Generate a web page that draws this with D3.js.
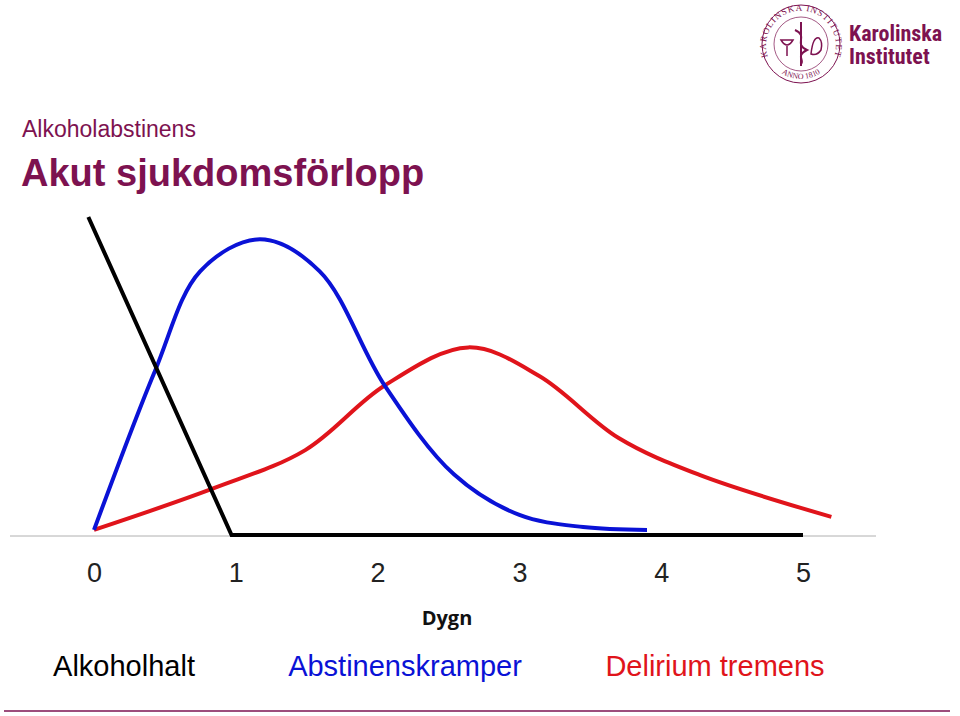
<!DOCTYPE html>
<html><head><meta charset="utf-8">
<script src="https://cdn.jsdelivr.net/npm/d3@7"></script>
<style>body{margin:0;background:#fff}</style>
</head><body>
<svg id="chart" width="960" height="716"></svg>
<script>
// days on x, relative level (0-100) on y
var dayTicks = [0, 1, 2, 3, 4, 5];
var alkoholX = [-0.04, 0.97, 5];
var alkoholY = [100, 0, 0];
var krampX = [0, 0.43, 0.75, 1.17, 1.59, 2.05, 2.54, 3.0, 3.45, 3.9];
var krampY = [1.6, 51.6, 83, 93, 83, 47, 19, 6.3, 2.5, 1.6];
var deliriumX = [0, 0.85, 1.49, 2.05, 2.64, 3.14, 3.7, 4.27, 5.2];
var deliriumY = [1.6, 14.8, 26.7, 47, 59, 50, 30.5, 18.9, 5.7];
var legendNames = ["Alkoholhalt", "Abstinenskramper", "Delirium tremens"];
var legendColors = ["#000000", "#0a12d6", "#e0141b"];

var svg = d3.select("#chart");
var purple = "#7d1250";

var x = d3.scaleLinear().domain([0, 5]).range([94, 803]);
var y = d3.scaleLinear().domain([0, 100]).range([535, 217]);

// titles
svg.append("text").attr("x", 22).attr("y", 137)
  .style("font-family", "Liberation Sans, Arial").style("font-size", "23px")
  .style("fill", purple).text("Alkoholabstinens");
svg.append("text").attr("x", 21).attr("y", 186)
  .style("font-family", "Liberation Sans, Arial").style("font-size", "38px")
  .style("font-weight", "bold").style("fill", purple).text("Akut sjukdomsförlopp");

// baseline
svg.append("line").attr("x1", 10).attr("x2", 876).attr("y1", 536).attr("y2", 536)
  .style("stroke", "#b0b0b0").style("stroke-width", 1);

var line = d3.line().x(d => x(d[0])).y(d => y(d[1]));
function draw(xs, ys, color, curve) {
  svg.append("path")
    .datum(d3.zip(xs, ys))
    .attr("d", line.curve(curve))
    .style("fill", "none").style("stroke", color).style("stroke-width", 4);
}
draw(deliriumX, deliriumY, legendColors[2], d3.curveCatmullRom);
draw(krampX, krampY, legendColors[1], d3.curveCatmullRom);
draw(alkoholX, alkoholY, legendColors[0], d3.curveLinear);

// axis labels
var axis = svg.append("g").attr("transform", "translate(0,563)")
  .call(d3.axisBottom(x).tickValues(dayTicks).tickFormat(d3.format("d")).tickSize(0).tickPadding(0));
axis.select(".domain").remove();
axis.selectAll("text").style("font-family", "Liberation Sans, Arial")
  .style("font-size", "27px").style("fill", "#222");

svg.append("text").attr("x", 447).attr("y", 625).attr("text-anchor", "middle")
  .style("font-family", "Open Sans, sans-serif").style("font-weight", "bold")
  .style("font-size", "20px").style("fill", "#111").text("Dygn");

// legend
var legendX = [124, 405, 715];
svg.selectAll(".leg").data(legendNames).enter().append("text")
  .attr("x", (d, i) => legendX[i]).attr("y", 676).attr("text-anchor", "middle")
  .style("font-family", "Liberation Sans, Arial").style("font-size", "29px")
  .style("fill", (d, i) => legendColors[i]).text(d => d);

svg.append("line").attr("x1", 4).attr("x2", 950).attr("y1", 711).attr("y2", 711)
  .style("stroke", purple).style("stroke-width", 1.5);

// logo
var logo = svg.append("g").attr("transform", "translate(801,44)");
logo.append("circle").attr("r", 39).style("fill", "none").style("stroke", purple).style("stroke-width", 1);
logo.append("circle").attr("r", 27).style("fill", "none").style("stroke", purple).style("stroke-width", 0.7);
logo.append("path").attr("id", "sealArc")
  .attr("d", "M -34 10 A 35 35 0 1 1 34 10").style("fill", "none");
logo.append("text").style("font-family", "Liberation Serif, serif").style("font-size", "9px")
  .style("fill", purple).style("letter-spacing", "1px")
  .append("textPath").attr("href", "#sealArc").attr("startOffset", "50%")
  .attr("text-anchor", "middle").text("KAROLINSKA INSTITUTET");
logo.append("path").attr("id", "sealArc2")
  .attr("d", "M -30 18 A 35 35 0 0 0 30 18").style("fill", "none");
logo.append("text").style("font-family", "Liberation Serif, serif").style("font-size", "8px")
  .style("fill", purple)
  .append("textPath").attr("href", "#sealArc2").attr("startOffset", "50%")
  .attr("text-anchor", "middle").text("ANNO 1810");
logo.append("path").attr("d", "M 0 -22 L 0 22 M -6 -14 C 8 -8 -8 0 6 6 C -6 12 4 16 0 20")
  .style("fill", "none").style("stroke", purple).style("stroke-width", 2);
logo.append("path").attr("d", "M -20 -4 Q -14 6 -8 -4 Z M -14 2 L -14 12").style("fill", "none")
  .style("stroke", purple).style("stroke-width", 1.5);
logo.append("path").attr("d", "M 10 10 Q 12 -8 18 -6 Q 22 -2 20 6 Q 16 12 10 10 Z").style("fill", "none")
  .style("stroke", purple).style("stroke-width", 1.5);

svg.append("text").attr("x", 849).attr("y", 41)
  .style("font-family", "Liberation Sans Narrow, Roboto Condensed, Arial Narrow, sans-serif")
  .style("font-weight", "bold").style("font-size", "22px").style("fill", purple)
  .text("Karolinska");
svg.append("text").attr("x", 849).attr("y", 64)
  .style("font-family", "Liberation Sans Narrow, Roboto Condensed, Arial Narrow, sans-serif")
  .style("font-weight", "bold").style("font-size", "22px").style("fill", purple)
  .text("Institutet");
</script>
</body></html>
